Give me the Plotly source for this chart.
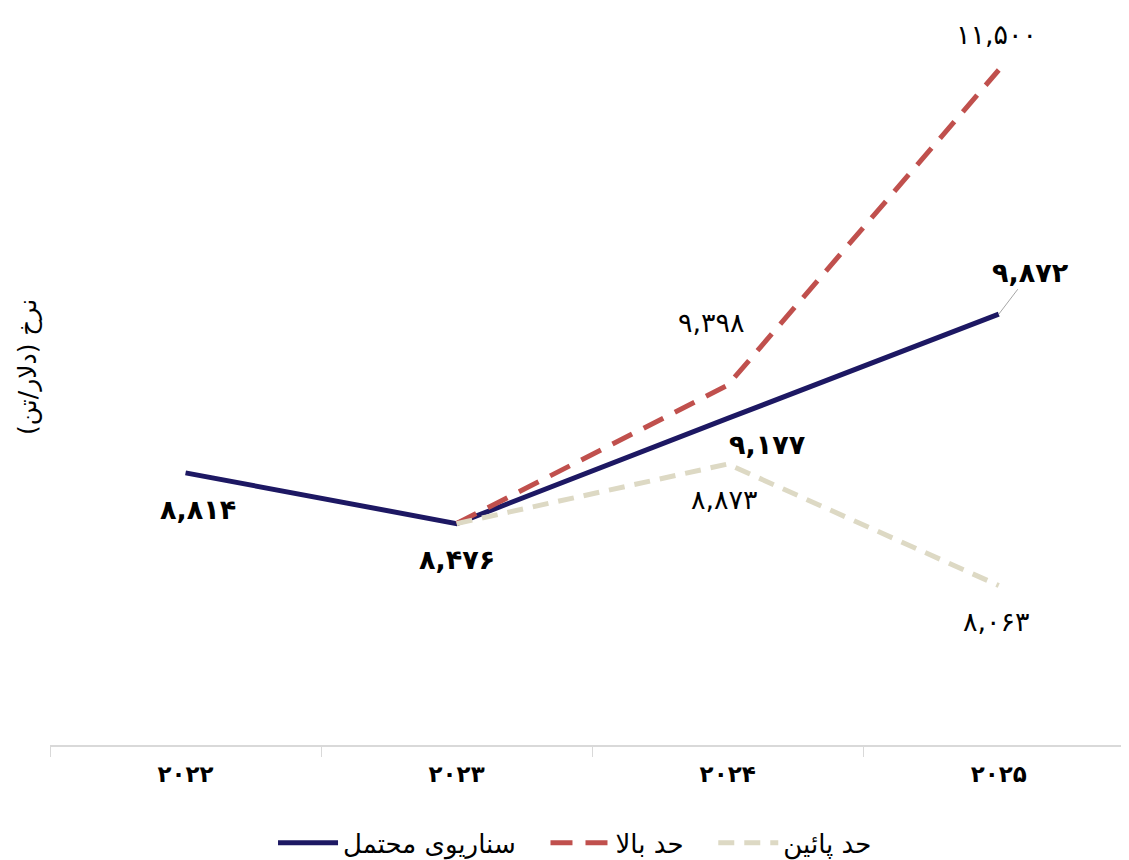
import plotly.graph_objects as go

# data
years = ['2022', '2023', '2024', '2025']
likely = [8814, 8476, 9177, 9872]
upper = [None, 8476, 9398, 11500]
lower = [None, 8476, 8873, 8063]

FA = str.maketrans('0123456789', '۰۱۲۳۴۵۶۷۸۹')


def fa(v):
    return f'{v:,}'.translate(FA)


cats = [fa(int(y)).replace(',', '') for y in years]
font = 'DejaVu Sans'
pad = '\u00a0'  # nbsp to widen the gaps between legend entries

fig = go.Figure()
fig.add_trace(go.Scatter(x=cats, y=likely, mode='lines', name='سناریوی محتمل' + pad * 3,
                         line=dict(color='#1d1863', width=5)))
fig.add_trace(go.Scatter(x=cats, y=upper, mode='lines', name='حد بالا' + pad * 3,
                         line=dict(color='#c0504d', width=5, dash='22px,13px')))
fig.add_trace(go.Scatter(x=cats, y=lower, mode='lines', name='حد پائین',
                         line=dict(color='#ddd9c4', width=5, dash='16px,10px')))

# data labels (offsets in px)
lab = [
    (0, likely[0], 12, -37, True),
    (1, likely[1], 0, -36, True),
    (2, likely[2], 40, -26, True),
    (2, upper[2], -16, 63, False),
    (3, upper[3], -2, 36, False),
    (2, lower[2], -3, -35, False),
    (3, lower[3], -2, -36, False),
]
for i, v, dx, dy, bold in lab:
    t = fa(v)
    fig.add_annotation(x=cats[i], y=v, text=f'<b>{t}</b>' if bold else t,
                       showarrow=False, xshift=dx, yshift=dy,
                       font=dict(size=27, color='black', family=font))

# last point of the main series has a leader line
fig.add_annotation(x=cats[3], y=likely[3], text=f'<b>{fa(likely[3])}</b>',
                   showarrow=True, arrowhead=0, arrowwidth=1, arrowcolor='#a6a6a6',
                   ax=32, ay=-42, font=dict(size=27, color='black', family=font))

fig.add_annotation(xref='paper', yref='paper', x=-0.006, y=0.525, xanchor='right',
                   text='نرخ (دلار/تن)', textangle=-90, showarrow=False,
                   font=dict(size=25, color='black', family=font))

# the page body adds an 8px offset, margins are reduced to compensate
fig.update_layout(
    width=1129, height=860,
    margin=dict(l=42, r=0, t=17, b=123),
    plot_bgcolor='white', paper_bgcolor='white',
    font=dict(family=font, color='black'),
    showlegend=True,
    legend=dict(orientation='h', x=0.483, xanchor='center', y=-0.136, yanchor='middle',
                font=dict(size=26), itemwidth=60),
)
fig.update_xaxes(type='category', range=[-0.5, 3.51], showline=True, linecolor='#d9d9d9',
                 linewidth=1.5, ticks='outside', tickson='boundaries', ticklen=10,
                 tickcolor='#d9d9d9', showgrid=False, ticklabelstandoff=8, automargin=False,
                 tickfont=dict(size=23, color='black', family=font),
                 tickprefix='<b>', ticksuffix='</b>')
fig.update_yaxes(range=[7000, 11800], showticklabels=False, showgrid=False,
                 zeroline=False, showline=False, automargin=False)

fig.write_html('out.html')
